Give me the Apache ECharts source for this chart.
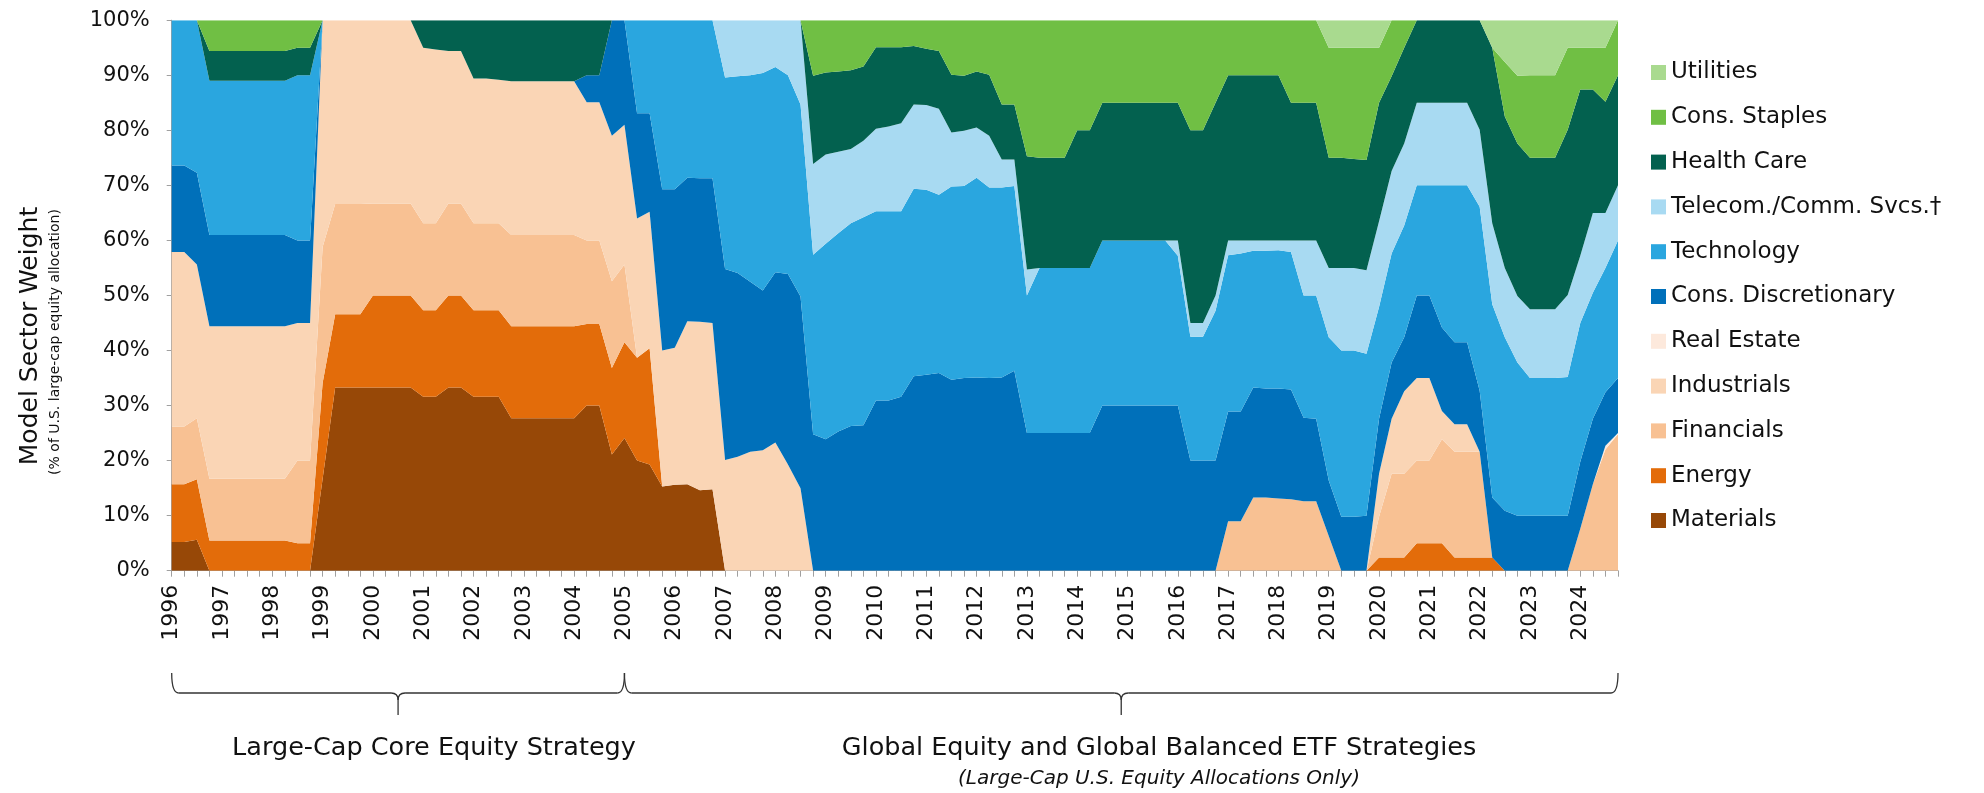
<!DOCTYPE html>
<html><head><meta charset="utf-8">
<script src="https://cdn.jsdelivr.net/npm/echarts/dist/echarts.min.js"></script>
<style>html,body{margin:0;padding:0;background:#fff}#c{width:1984px;height:793px}</style>
</head><body><div id="c"></div>
<script>
// Quarterly observation dates, 1996 Q1 .. 2024 Q4
const firstYear = 1996, lastYear = 2024;
const quarters = [];
for (let y = firstYear; y <= lastYear; y++) { for (const q of ['Q1','Q2','Q3','Q4']) quarters.push(y + ' ' + q); }

// Sector weights (% of U.S. large-cap equity allocation), four values (Q1..Q4) per year
// rows: 1996-2000 | 2001-2004 | 2005-2010 | 2011-2018 | 2019-2024
const materials = [
 5.2,5.2,5.6,0, 0,0,0,0, 0,0,0,0, 16.7,33.3,33.3,33.3, 33.3,33.3,33.3,33.3,
 31.6,31.6,33.3,33.3, 31.6,31.6,31.6,27.7, 27.7,27.7,27.7,27.7, 27.7,30.0,30.0,21.1,
 24.1,20.0,19.3,15.3, 15.6,15.7,14.6,14.8, 0,0,0,0, 0,0,0,0, 0,0,0,0, 0,0,0,0,
 0,0,0,0, 0,0,0,0, 0,0,0,0, 0,0,0,0, 0,0,0,0, 0,0,0,0, 0,0,0,0, 0,0,0,0,
 0,0,0,0, 0,0,0,0, 0,0,0,0, 0,0,0,0, 0,0,0,0, 0,0,0,0];
const energy = [
 10.5,10.5,11.0,5.5, 5.5,5.5,5.5,5.5, 5.5,5.5,5.0,5.0, 17.4,13.3,13.3,13.3, 16.7,16.7,16.7,16.7,
 15.7,15.7,16.7,16.7, 15.7,15.7,15.7,16.7, 16.7,16.7,16.7,16.7, 16.7,14.8,14.8,15.7,
 17.4,18.7,21.1,0, 0,0,0,0, 0,0,0,0, 0,0,0,0, 0,0,0,0, 0,0,0,0,
 0,0,0,0, 0,0,0,0, 0,0,0,0, 0,0,0,0, 0,0,0,0, 0,0,0,0, 0,0,0,0, 0,0,0,0,
 0,0,0,0, 2.4,2.4,2.4,5, 5,5,2.4,2.4, 2.4,2.4,0,0, 0,0,0,0, 0,0,0,0];
const financials = [
 10.5,10.5,11.1,11.2, 11.2,11.2,11.2,11.2, 11.2,11.2,15.0,15.0, 24.7,20.0,20.0,20.0, 16.7,16.7,16.7,16.7,
 15.8,15.8,16.7,16.7, 15.8,15.8,15.8,16.6, 16.6,16.6,16.6,16.6, 16.6,15.2,15.2,15.8,
 14.1,0,0,0, 0,0,0,0, 0,0,0,0, 0,0,0,0, 0,0,0,0, 0,0,0,0,
 0,0,0,0, 0,0,0,0, 0,0,0,0, 0,0,0,0, 0,0,0,0, 0,0,0,0, 9.0,9.0,13.3,13.3, 13.1,13.0,12.6,12.6,
 6.3,0,0,0, 7.4,15.2,15.2,15, 15,18.9,19.2,19.2, 19.2,0,0,0, 0,0,0,0, 7.6,15.7,22.0,24.8];
const industrials = [
 31.7,31.7,27.9,27.7, 27.7,27.7,27.7,27.7, 27.7,27.7,25.0,25.0, 41.2,33.4,33.4,33.4, 33.3,33.3,33.3,33.3,
 31.9,31.6,27.7,27.7, 26.3,26.3,26.1,27.9, 27.9,27.9,27.9,27.9, 27.9,25.1,25.1,26.4,
 25.4,25.3,24.8,24.7, 24.9,29.6,30.6,30.2, 20.1,20.7,21.6,21.9, 23.3,19.3,15.0,0, 0,0,0,0, 0,0,0,0,
 0,0,0,0, 0,0,0,0, 0,0,0,0, 0,0,0,0, 0,0,0,0, 0,0,0,0, 0,0,0,0, 0,0,0,0,
 0,0,0,0, 7.8,10.0,15.0,15, 15,5.1,5.0,5.0, 0,0,0,0, 0,0,0,0, 0,0,0,0];
const realEstate = [
 0,0,0,0, 0,0,0,0, 0,0,0,0, 0,0,0,0, 0,0,0,0,
 0,0,0,0, 0,0,0,0, 0,0,0,0, 0,0,0,0,
 0,0,0,0, 0,0,0,0, 0,0,0,0, 0,0,0,0, 0,0,0,0, 0,0,0,0,
 0,0,0,0, 0,0,0,0, 0,0,0,0, 0,0,0,0, 0,0,0,0, 0,0,0,0, 0,0,0,0, 0,0,0,0,
 0,0,0,0, 0,0,0,0, 0,0,0,0, 0,0,0,0, 0,0,0,0, 0,0,0.7,0.2];
const consDisc = [
 15.7,15.7,16.7,16.6, 16.6,16.6,16.6,16.6, 16.6,16.6,15.0,15.0, 0,0,0,0, 0,0,0,0,
 0,0,0,0, 0,0,0,0, 0,0,0,0, 0,4.9,4.9,21.0,
 19.0,19.1,17.9,29.3, 28.8,26.1,26.1,26.3, 34.7,33.4,30.9,29.0, 30.9,34.6,34.8,24.8, 23.9,25.3,26.3,26.4, 30.9,30.9,31.6,35.3,
 35.6,35.9,34.7,35.0, 35.1,35.0,35.1,36.3, 25,25,25,25, 25,25,30,30, 30,30,30,30, 30,20,20,20, 19.9,19.9,20.0,19.8, 20.0,19.9,15.2,15.0,
 10.1,9.8,9.8,10.0, 10.0,10.2,9.8,15, 15,15.2,14.9,14.9, 11.1,10.9,10.9,10, 10,10,10,10, 12.2,11.9,9.7,10.0];
const technology = [
 26.4,26.4,27.7,28.0, 28.0,28.0,28.0,28.0, 28.0,28.0,30.0,30.0, 0,0,0,0, 0,0,0,0,
 0,0,0,0, 0,0,0,0, 0,0,0,0, 0,0,0,0,
 0,16.9,16.9,30.7, 30.7,28.6,28.7,28.7, 34.8,35.7,37.5,39.5, 37.3,36.1,34.9,32.6, 35.5,36.0,36.8,37.8, 34.4,34.4,33.7,34.1,
 33.6,32.4,35.1,34.9, 36.3,34.6,34.5,33.6, 25.0,30,30,30, 30,30,30,30, 30,30,30,30, 27.2,22.5,22.5,27.2, 28.4,28.7,24.8,25.0, 25.1,25.0,22.2,22.4,
 26.0,30.2,30.2,29.4, 20.3,19.8,20.3,20, 20,25.8,28.5,28.5, 33.4,35.1,31.5,27.8, 25,25,25,25.2, 25.2,22.9,22.6,25.0];
const telecom = [
 0,0,0,0, 0,0,0,0, 0,0,0,0, 0,0,0,0, 0,0,0,0,
 0,0,0,0, 0,0,0,0, 0,0,0,0, 0,0,0,0,
 0,0,0,0, 0,0,0,0, 10.4,10.2,10.0,9.6, 8.5,10.0,15.3,16.5, 16.2,14.8,13.5,13.9, 15.0,15.4,16.0,15.3,
 15.4,15.6,9.8,10.0, 9.1,9.4,5.1,4.8, 4.7,0,0,0, 0,0,0,0, 0,0,0,0, 2.8,2.5,2.5,2.8, 2.7,2.4,1.9,1.9, 1.8,2.1,10.0,10.0,
 12.6,15.0,15.0,15.2, 15.6,15.0,14.9,15, 15,15,15,15, 14.0,14.7,12.6,12.1, 12.5,12.5,12.5,14.9, 12.2,14.5,10.0,10.0];
const healthCare = [
 0,0,0,5.4, 5.4,5.4,5.4,5.4, 5.4,5.4,5.0,5.0, 0,0,0,0, 0,0,0,0,
 5.0,5.3,5.6,5.6, 10.6,10.6,10.8,11.1, 11.1,11.1,11.1,11.1, 11.1,10.0,10.0,0,
 0,0,0,0, 0,0,0,0, 0,0,0,0, 0,0,0,16.0, 14.9,14.6,14.3,13.5, 14.8,14.4,13.8,10.6,
 10.2,10.5,10.5,10.0, 10.2,11.1,10.0,10.0, 20.6,20,20,20, 25,25,25,25, 25,25,25,25, 25,35,35,35, 30,30,30,30, 30,25,25,25,
 20,20,19.8,20.0, 21.5,17.2,17.4,15, 15,15,15,15, 19.9,31.9,27.5,27.7, 27.5,27.5,27.5,30.0, 30.2,22.4,20.2,20.0];
const consStaples = [
 0,0,0,5.6, 5.6,5.6,5.6,5.6, 5.6,5.6,5.0,5.0, 0,0,0,0, 0,0,0,0,
 0,0,0,0, 0,0,0,0, 0,0,0,0, 0,0,0,0,
 0,0,0,0, 0,0,0,0, 0,0,0,0, 0,0,0,10.1, 9.5,9.3,9.1,8.4, 4.9,4.9,4.9,4.7,
 5.2,5.6,9.9,10.1, 9.3,9.9,15.3,15.3, 24.7,25,25,25, 20,20,15,15, 15,15,15,15, 15,20,20,15, 10,10,10,10, 10,15,15,15,
 20,20,20.2,20.4, 10,10.2,5.0,0, 0,0,0,0, 0,0,9.9,12.3, 15,15,15,14.9, 7.6,7.6,9.8,10.0];
const utilities = [
 0,0,0,0, 0,0,0,0, 0,0,0,0, 0,0,0,0, 0,0,0,0,
 0,0,0,0, 0,0,0,0, 0,0,0,0, 0,0,0,0,
 0,0,0,0, 0,0,0,0, 0,0,0,0, 0,0,0,0, 0,0,0,0, 0,0,0,0,
 0,0,0,0, 0,0,0,0, 0,0,0,0, 0,0,0,0, 0,0,0,0, 0,0,0,0, 0,0,0,0, 0,0,0,0,
 5,5,5,5, 5,0,0,0, 0,0,0,0, 0,5,7.6,10.1, 10,10,10,5, 5,5,5,0];

const sectorNames = ['Materials','Energy','Financials','Industrials','Real Estate','Cons. Discretionary',
  'Technology','Telecom./Comm. Svcs.\u2020','Health Care','Cons. Staples','Utilities'];
const sectorData = [materials, energy, financials, industrials, realEstate, consDisc,
  technology, telecom, healthCare, consStaples, utilities];
const sectorColors = ['#974807','#E36C0A','#F8C193','#FAD5B5','#FDE9DC','#0070BA',
  '#2AA6DF','#A8DAF2','#03614F','#70BF44','#A9DA8F'];

const yTicks = [0,10,20,30,40,50,60,70,80,90,100];
const strategyBounds = ['1996 Q1', '2005 Q1', '2024 Q4'];
const strategyLabels = ['Large-Cap Core Equity Strategy', 'Global Equity and Global Balanced ETF Strategies'];
const strategyNote = '(Large-Cap U.S. Equity Allocations Only)';
const yTitle = 'Model Sector Weight';
const ySubtitle = '(% of U.S. large-cap equity allocation)';

const FONT = 'DejaVu Sans';
const chart = echarts.init(document.getElementById('c'));

const series = sectorNames.map((n, i) => ({
  name: n, type: 'line', stack: 'total', symbol: 'none', showSymbol: false,
  lineStyle: { width: 0 }, itemStyle: { color: sectorColors[i] },
  areaStyle: { color: sectorColors[i], opacity: 1 },
  data: sectorData[i]
}));

chart.setOption({
  animation: false,
  backgroundColor: '#fff',
  grid: { left: 171.7, right: 366, top: 20.2, bottom: 222.3 },
  xAxis: {
    type: 'category', data: quarters, boundaryGap: false,
    axisLine: { show: true, lineStyle: { color: '#a0a0a0', width: 1 } },
    axisTick: { show: true, interval: 0, length: 6, lineStyle: { color: '#a0a0a0' } },
    splitLine: { show: false },
    axisLabel: {
      interval: 0, rotate: 90, margin: 14, fontSize: 22, color: '#111', fontFamily: FONT,
      formatter: v => v.endsWith('Q1') ? v.slice(0, 4) : ''
    }
  },
  yAxis: {
    type: 'value', min: yTicks[0], max: yTicks[yTicks.length - 1], interval: 10,
    axisLine: { show: true, lineStyle: { color: '#a0a0a0', width: 1 } },
    axisTick: { show: true, length: 5, lineStyle: { color: '#a0a0a0' } },
    splitLine: { show: false },
    axisLabel: { formatter: '{value}%', fontSize: 21, margin: 22, color: '#111', fontFamily: FONT }
  },
  legend: {
    orient: 'vertical', left: 1651, top: 60.5, padding: 0, icon: 'rect',
    itemWidth: 15, itemHeight: 15, itemGap: 20.8,
    textStyle: { fontSize: 23, lineHeight: 24, color: '#111', fontFamily: FONT },
    data: sectorNames.slice().reverse()
  },
  series: series
});

// Curly braces under the axis, built from lines and bezier curves
function braceElements(x0, x1, top, h, bot, r) {
  const m = (x0 + x1) / 2;
  const st = { stroke: '#333', lineWidth: 1.3, fill: null };
  return [
    { type: 'bezierCurve', shape: { x1: x0, y1: top, cpx1: x0, cpy1: h, x2: x0 + r, y2: h }, style: st },
    { type: 'line', shape: { x1: x0 + r, y1: h, x2: m - r, y2: h }, style: st },
    { type: 'bezierCurve', shape: { x1: m - r, y1: h, cpx1: m, cpy1: h, x2: m, y2: h + r }, style: st },
    { type: 'line', shape: { x1: m, y1: h + r, x2: m, y2: bot }, style: st },
    { type: 'bezierCurve', shape: { x1: m, y1: h + r, cpx1: m, cpy1: h, x2: m + r, y2: h }, style: st },
    { type: 'line', shape: { x1: m + r, y1: h, x2: x1 - r, y2: h }, style: st },
    { type: 'bezierCurve', shape: { x1: x1 - r, y1: h, cpx1: x1, cpy1: h, x2: x1, y2: top }, style: st }
  ];
}
const px = strategyBounds.map(v => chart.convertToPixel({ xAxisIndex: 0 }, v));
const graphics = [].concat(
  braceElements(px[0], px[1], 673, 693, 715, 7),
  braceElements(px[1], px[2], 673, 693, 715, 7),
  [
  { type: 'text', x: 434, y: 748, style: { text: strategyLabels[0], font: `25.5px "${FONT}"`, fill: '#111', textAlign: 'center', textVerticalAlign: 'middle' } },
  { type: 'text', x: 1159, y: 748, style: { text: strategyLabels[1], font: `25.5px "${FONT}"`, fill: '#111', textAlign: 'center', textVerticalAlign: 'middle' } },
  { type: 'text', x: 1159, y: 779, style: { text: strategyNote, font: `italic 20px "${FONT}"`, fill: '#111', textAlign: 'center', textVerticalAlign: 'middle' } },
  { type: 'text', x: 30, y: 336, rotation: Math.PI / 2, style: { text: yTitle, font: `25px "${FONT}"`, fill: '#111', textAlign: 'center', textVerticalAlign: 'middle' } },
  { type: 'text', x: 55, y: 342, rotation: Math.PI / 2, style: { text: ySubtitle, font: `14px "${FONT}"`, fill: '#111', textAlign: 'center', textVerticalAlign: 'middle' } }
  ]);
chart.setOption({ graphic: graphics });
</script></body></html>
